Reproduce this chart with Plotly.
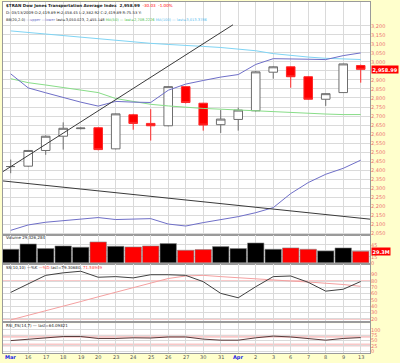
import plotly.graph_objects as go

# ---------------- data ----------------
day_labels = ["Mar", "16", "17", "18", "19", "20", "23", "24", "25", "26", "27",
              "30", "31", "Apr", "2", "3", "6", "7", "8", "9", "13"]
opens  = [2419.89, 2422, 2509, 2588, 2630, 2635, 2518, 2707, 2659, 2646, 2863,
          2771, 2652, 2681, 2729, 2943, 2973, 2918, 2793, 2830, 2980]
highs  = [2458.45, 2512, 2592, 2665, 2637, 2638, 2714, 2712, 2738, 2866, 2866,
          2773, 2733, 2747, 2950, 2976, 2976, 2921, 2826, 2990, 2985]
lows   = [2382.92, 2418, 2485, 2514, 2626, 2510, 2515, 2624, 2564, 2643, 2770,
          2619, 2606, 2619, 2725, 2907, 2857, 2790, 2756, 2828, 2885]
closes = [2419.89, 2509, 2588, 2632, 2633, 2514, 2712, 2659, 2646, 2863, 2775,
          2650, 2683, 2733, 2945, 2973, 2918, 2793, 2824, 2989.02, 2958.99]

bb_upper = [2934, 2856, 2829, 2801, 2777, 2755, 2781, 2777, 2775, 2843, 2877,
            2897, 2916, 2930, 2986, 3018, 3018, 3015, 3013, 3035, 3050.023]
bb_lower = [2066, 2096, 2111, 2121, 2128, 2137, 2126, 2127, 2131, 2101, 2090,
            2109, 2124, 2142, 2164, 2192, 2270, 2331, 2377, 2410, 2455.148]
ma50  = [2907, 2885, 2872, 2857, 2844, 2830, 2797, 2780, 2765, 2756, 2747,
         2742, 2738, 2733, 2731, 2723, 2720, 2714, 2711, 2708, 2708.2226]
ma100 = [3172, 3163, 3155, 3146, 3138, 3128, 3119, 3110, 3103, 3097, 3093,
         3086, 3080, 3072, 3062, 3046, 3035, 3027, 3020, 3016, 3013.3786]

volume_m = [34.3, 47.6, 35.9, 42.6, 39.3, 52.6, 41.8, 40.1, 42.6, 48.5, 31.8,
            33.4, 40.9, 35.9, 50.1, 34.3, 37.6, 34.3, 30.1, 37.6, 29.33]

ss_k = [62, 76, 89, 93, 95.5, 86, 87, 85, 90, 90, 89,
        79, 60.5, 53.5, 71, 87, 88, 78, 64, 67, 79.3068]
ss_d = [18.5, 25.5, 33, 40, 47.5, 55, 62, 69.5, 77, 84, 88,
        89, 87, 85, 83, 81, 80, 78.5, 77, 74.5, 71.58949]
rsi = [50, 57, 63, 69, 69, 60, 60, 63, 62, 67, 67,
       57, 52, 52, 63, 71, 67, 60, 52, 60, 64.09821]

# trend lines drawn on the chart: (day index, price)
trend_up = [(-0.44, 2392), (12.70, 3206)]
trend_down = [(-0.44, 2340), (20.53, 2128)]

price_ticks = list(range(2050, 3201, 50))
vol_ticks = [0, 15, 30, 45]
ss_ticks = [20, 30, 40, 50, 60, 70, 80, 90]
rsi_ticks = [0, 25, 50, 75, 100]

# ---------------- figure ----------------
idx = list(range(len(day_labels)))
FONT = "DejaVu Sans, Verdana, sans-serif"
AXIS_RED = "#EE6F6F"
GRID = "#DADADA"
BORDER = "#9A9A9A"

fig = go.Figure()

fig.add_trace(go.Candlestick(
    x=idx, open=opens, high=highs, low=lows, close=closes,
    increasing=dict(line=dict(color="#6E6E6E", width=1), fillcolor="white"),
    decreasing=dict(line=dict(color="#FF2A2A", width=1), fillcolor="#FF0000"),
    whiskerwidth=0, showlegend=False, hoverinfo="skip", xaxis="x", yaxis="y"))

for vals, col in [(ma100, "#7FD4F4"), (ma50, "#88DD88"), (bb_upper, "#6F6FC8"), (bb_lower, "#6F6FC8")]:
    fig.add_trace(go.Scatter(x=idx, y=vals, mode="lines", line=dict(color=col, width=1),
                             showlegend=False, hoverinfo="skip", xaxis="x", yaxis="y"))

vol_colors = ["#000000"] + ["#FF0000" if closes[i] < closes[i - 1] else "#000000" for i in range(1, len(closes))]
fig.add_trace(go.Bar(x=idx, y=volume_m, marker=dict(color=vol_colors, line=dict(color="#8A8A8A", width=0.6)),
                     showlegend=False, hoverinfo="skip", xaxis="x2", yaxis="y2"))

fig.add_trace(go.Scatter(x=idx, y=ss_d, mode="lines", line=dict(color="#F4A0A0", width=1),
                         showlegend=False, hoverinfo="skip", xaxis="x3", yaxis="y3"))
fig.add_trace(go.Scatter(x=idx, y=ss_k, mode="lines", line=dict(color="#404040", width=1),
                         showlegend=False, hoverinfo="skip", xaxis="x3", yaxis="y3"))

fig.add_trace(go.Scatter(x=idx, y=rsi, mode="lines", line=dict(color="#5A3A3A", width=1),
                         showlegend=False, hoverinfo="skip", xaxis="x4", yaxis="y4"))

shapes = []
for (x0, y0), (x1, y1) in [trend_up, trend_down]:
    shapes.append(dict(type="line", xref="x", yref="y", x0=x0, y0=y0, x1=x1, y1=y1,
                       line=dict(color="#3A3A3A", width=1)))
for lvl in [80, 20]:
    shapes.append(dict(type="line", xref="x3 domain", yref="y3", x0=0, x1=1, y0=lvl, y1=lvl,
                       line=dict(color="#F28C8C", width=1), layer="below"))
for lvl in [70, 30]:
    shapes.append(dict(type="line", xref="x4 domain", yref="y4", x0=0, x1=1, y0=lvl, y1=lvl,
                       line=dict(color="#F9C8C8", width=3), layer="below"))

H = 363.0
def py(p):
    return 1 - p / H

XD = [3 / 400, 370 / 400]
dom_price = [py(236), py(2)]
dom_vol = [py(265), py(236)]
dom_ss = [py(323), py(265)]
dom_rsi = [py(355), py(325)]

xrange = [-0.44, 20.53]

def xax(anchor):
    return dict(domain=XD, range=xrange, anchor=anchor, tickvals=idx, showgrid=True,
                gridcolor=GRID, gridwidth=1, zeroline=False, showline=True, mirror=True,
                linecolor=BORDER, linewidth=1, ticks="", showticklabels=False,
                fixedrange=True)

def yax(anchor, domain, rng, tickvals, ticktext_):
    return dict(domain=domain, range=rng, anchor=anchor, side="right", tickvals=tickvals,
                ticktext=ticktext_, tickfont=dict(size=5, color=AXIS_RED, family=FONT),
                showgrid=True, gridcolor=GRID, gridwidth=1, zeroline=False, showline=True,
                mirror=True, linecolor=BORDER, linewidth=1, ticks="", fixedrange=True,
                ticklabelstandoff=-1)

# labels hidden under the last-value tags (as in the reference) are left blank
price_text = ["" if abs(v - closes[-1]) < 20 else "{:,}".format(v) for v in price_ticks]
vol_text = ["" if abs(v - volume_m[-1]) < 4 else str(v) for v in vol_ticks]

fig.update_layout(
    width=400, height=363, margin=dict(l=0, r=0, t=0, b=0),
    paper_bgcolor="#FFFFCC", plot_bgcolor="white",
    font=dict(family=FONT, size=5, color="#222222"),
    showlegend=False, bargap=0.06, hovermode=False,
    xaxis=dict(xax("y"), rangeslider=dict(visible=False)),
    xaxis2=dict(xax("y2"), matches="x"),
    xaxis3=dict(xax("y3"), matches="x"),
    xaxis4=dict(xax("y4"), matches="x"),
    yaxis=yax("x", dom_price, [2041.9, 3332.4], price_ticks, price_text),
    yaxis2=yax("x2", dom_vol, [-1.75, 70.9], vol_ticks, vol_text),
    yaxis3=yax("x3", dom_ss, [16.4, 107.7], ss_ticks, [str(v) for v in ss_ticks]),
    yaxis4=yax("x4", dom_rsi, [-7.9, 131], rsi_ticks, [str(v) for v in rsi_ticks]),
    shapes=shapes,
)

ann = []
def txt(x, y, text, size=4.3, color="#222222", xref="paper", yref="paper", **kw):
    d = dict(x=x, y=y, xref=xref, yref=yref, text=text, showarrow=False, xanchor="left",
             yanchor="middle", font=dict(size=size, color=color, family=FONT))
    d.update(kw)
    ann.append(d)

# date labels below the bottom panel
for i, t in zip(idx, day_labels):
    if t in ("Mar", "Apr"):
        txt(i, py(359), "<b>%s</b>" % t, size=5, color="#1A1AE6", xref="x4", xanchor="center")
    else:
        txt(i, py(359), t, size=5, color="#555555", xref="x4", xanchor="center")

x0 = 4 / 400
txt(x0, py(5.5), "<b>$TRAN Dow Jones Transportation Average Index  2,958.99</b>  "
    "<span style='color:#FF0000'>-30.03  -1.00%</span>", size=4.1)
txt(x0, py(13), "D: 03/13/2009 O:2,419.89 H:2,458.45 L:2,382.92 C:2,419.89 R:75.53 Y:", size=3.8)
txt(x0, py(20), "BB(20,2.0) <span style='color:#6F6FC8'>\u2014upper \u2014lower</span> last=3,050.023, 2,455.148 "
    "<span style='color:#44BB44'>MA(50) \u2014 last=2,708.2226</span> "
    "<span style='color:#55BBEE'>MA(100) \u2014 last=3,013.3786</span>", size=3.6)
txt(x0, py(239), "Volume 29,326,284", size=4.0)
txt(x0, py(269), "SS(10,10) \u2014%K <span style='color:#FF4444'>\u2014%D</span> last=79.30680, "
    "<span style='color:#FF4444'>71.58949</span>", size=4.0)
txt(x0, py(327.5), "RSI_ES(14,7) \u2014 last=64.09821", size=4.0)

# last value tags on the right axis
txt(370.5 / 400, closes[-1], "<b>{:,.2f}</b>".format(closes[-1]), size=5, color="white",
    yref="y", bgcolor="#FF0000", borderpad=0.5)
txt(370.5 / 400, volume_m[-1], "<b>{:.1f}M</b>".format(volume_m[-1]), size=5, color="white",
    yref="y2", bgcolor="#FF0000", borderpad=0.5)

fig.update_layout(annotations=ann)
fig.write_html("out.html", config={"displayModeBar": False},
               post_script="document.body.style.margin='0px';")
